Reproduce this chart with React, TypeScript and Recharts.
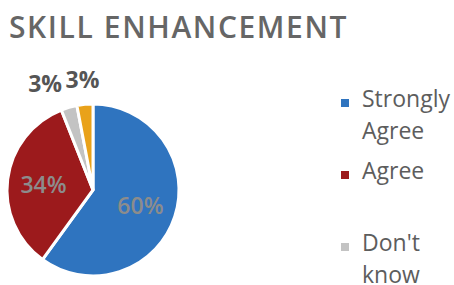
import React from 'react';
import { PieChart, Pie, Cell, Legend } from 'recharts';

// answers and their shares
const answers = ['Strongly Agree', 'Agree', "Don't know", 'Disagree'];
const shares = [60, 34, 3, 3];
const colors = ['#2f74bf', '#9c1a1c', '#c3c3c3', '#e9a21a'];

const chartData = answers.map((name, i) => ({ name, value: shares[i] }));

const RAD = Math.PI / 180;
const FONT = '"Open Sans", sans-serif';

const renderLabel = (props: any) => {
  const { cx, cy, midAngle, outerRadius, index, value } = props;
  const small = value < 10;
  const r = small ? outerRadius + 25 : outerRadius * 0.58;
  const x = cx + r * Math.cos(-midAngle * RAD);
  const y = cy + r * Math.sin(-midAngle * RAD);
  return (
    <text
      x={x}
      y={y}
      textAnchor={small ? (index === 2 ? 'end' : 'middle') : 'middle'}
      dominantBaseline="central"
      fill={small ? '#555' : '#8c8c8c'}
      fontFamily={FONT}
      fontWeight={small ? 700 : 600}
      fontSize={small ? 23 : 23}
    >
      {value}%
    </text>
  );
};

// legend drawn in the data order (recharts would sort it by name)
const renderLegend = () => (
  <div style={{ fontFamily: FONT, fontSize: 23, color: '#5d5d5d' }}>
    {answers.map((name, i) => (
      <div key={name} style={{ height: 72, display: 'flex', alignItems: 'flex-start' }}>
        <span style={{ flex: 'none', width: 8, height: 8, background: colors[i], marginTop: 11, marginRight: 13 }} />
        <div style={{ lineHeight: '32px', marginTop: -6 }}>
          {name.split(' ').map((w) => (
            <div key={w}>{w}</div>
          ))}
        </div>
      </div>
    ))}
  </div>
);

export default function App() {
  return (
    <div style={{ position: 'fixed', left: 0, top: 0, width: 454, height: 285, background: '#fff', overflow: 'hidden' }}>
      <div
        style={{
          position: 'absolute',
          left: 9,
          top: 6,
          fontFamily: FONT,
          fontWeight: 600,
          fontSize: 30,
          letterSpacing: 1.6,
          color: '#666',
          whiteSpace: 'nowrap',
        }}
      >
        SKILL ENHANCEMENT
      </div>
      <div style={{ position: 'absolute', left: 0, top: 0 }}>
        <PieChart width={454} height={285}>
          <Pie
            data={chartData}
            dataKey="value"
            nameKey="name"
            cx={88}
            cy={185}
            outerRadius={86}
            startAngle={90}
            endAngle={-270}
            stroke="#fff"
            strokeWidth={3}
            label={renderLabel}
            labelLine={false}
            isAnimationActive={false}
          >
            {chartData.map((d, i) => (
              <Cell key={d.name} fill={colors[i]} />
            ))}
          </Pie>
          <Legend
            layout="vertical"
            verticalAlign="top"
            align="right"
            content={renderLegend}
            wrapperStyle={{ left: 341, top: 88, width: 113 }}
          />
        </PieChart>
      </div>
    </div>
  );
}
